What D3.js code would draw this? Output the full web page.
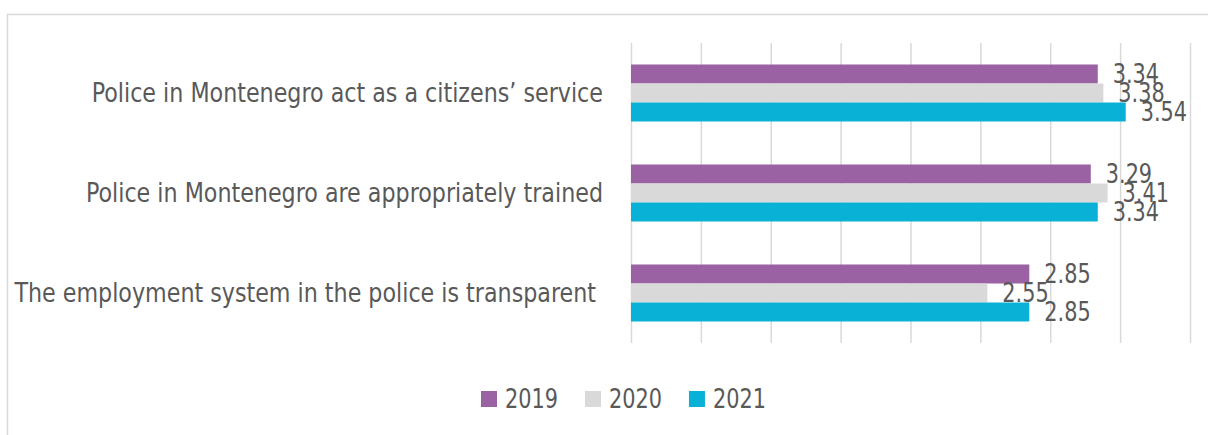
<!DOCTYPE html>
<meta charset="utf-8">
<style>
  body { margin: 0; background: #fff; }
  text { font-family: "Liberation Sans Narrow", "DejaVu Sans Condensed", sans-serif; fill: #595959; }
  .grid .domain { display: none; }
  .grid .tick line { stroke: #d9d9d9; stroke-width: 1.5; }
  .grid .tick text { display: none; }
</style>
<body>
<script src="https://d3js.org/d3.v7.min.js"></script>
<script>
  var categories = [
    "Police in Montenegro act as a citizens’ service",
    "Police in Montenegro are appropriately trained",
    "The employment system in the police is transparent "
  ];
  var years = ["2019", "2020", "2021"];
  var values2019 = [3.34, 3.29, 2.85];
  var values2020 = [3.38, 3.41, 2.55];
  var values2021 = [3.54, 3.34, 2.85];
  var xTicks = [0, 0.5, 1, 1.5, 2, 2.5, 3, 3.5, 4];
  var colors = ["#9b62a3", "#d9d9d9", "#08b1d5"];

  var series = [values2019, values2020, values2021];

  var W = 1208, H = 435;
  var margin = { top: 43, left: 631, right: 18, bottom: 92 },
    width = W - margin.left - margin.right,
    height = H - margin.top - margin.bottom;

  // the original font is narrower than what we have, squeeze it a bit
  var squeezeCat = 0.95, squeezeNum = 0.89;

  var svg = d3.select("body").append("svg")
    .attr("width", W)
    .attr("height", H);

  // chart frame
  svg.append("rect")
    .attr("x", 7.5).attr("y", 14.5)
    .attr("width", W + 10).attr("height", H + 10)
    .attr("fill", "none")
    .attr("stroke", "#d9d9d9")
    .attr("stroke-width", 1.5);

  var g = svg.append("g")
    .attr("transform", "translate(" + margin.left + "," + margin.top + ")");

  var x = d3.scaleLinear()
    .domain([0, 4])
    .range([0, width]);

  var y = d3.scaleBand()
    .domain(categories)
    .range([0, height])
    .paddingInner(0.43)
    .paddingOuter(0.215);

  var ySub = d3.scaleBand()
    .domain(years)
    .range([0, y.bandwidth()]);

  g.append("g")
    .attr("class", "grid")
    .attr("transform", "translate(0," + height + ")")
    .call(d3.axisBottom(x).tickValues(xTicks).tickSize(height).tickSizeOuter(0))
    .selectAll(".tick line")
    .attr("y1", 0).attr("y2", -height);

  // category labels
  g.selectAll(".cat")
    .data(categories)
    .enter()
    .append("text")
    .attr("class", "cat")
    .attr("transform", function (d) {
      return "translate(-28," + (y(d) + y.bandwidth() / 2) + ") scale(" + squeezeCat + ",1)";
    })
    .attr("dy", "0.35em")
    .attr("text-anchor", "end")
    .style("white-space", "pre")
    .style("font-size", "26px")
    .text(function (d) { return d; });

  var rows = g.selectAll(".row")
    .data(categories)
    .enter()
    .append("g")
    .attr("class", "row")
    .attr("transform", function (d) { return "translate(0," + y(d) + ")"; });

  years.forEach(function (yr, s) {
    rows.append("rect")
      .attr("x", x(0))
      .attr("y", ySub(yr))
      .attr("width", function (d, i) { return x(series[s][i]) - x(0); })
      .attr("height", ySub.bandwidth())
      .attr("fill", colors[s]);
  });

  years.forEach(function (yr, s) {
    rows.append("text")
      .attr("transform", function (d, i) {
        return "translate(" + (x(series[s][i]) + 15) + "," + (ySub(yr) + ySub.bandwidth() / 2) + ") scale(" + squeezeNum + ",1)";
      })
      .attr("dy", "0.36em")
      .style("font-size", "26px")
      .text(function (d, i) { return series[s][i].toFixed(2); });
  });

  // legend
  var legend = svg.append("g")
    .attr("transform", "translate(481,399)");
  var lx = 0;
  years.forEach(function (yr, s) {
    var item = legend.append("g").attr("transform", "translate(" + lx + ",0)");
    item.append("rect")
      .attr("x", 0).attr("y", -8)
      .attr("width", 16).attr("height", 16)
      .attr("fill", colors[s]);
    var t = item.append("text")
      .attr("transform", "translate(24,0) scale(" + squeezeNum + ",1)")
      .attr("dy", "0.36em")
      .style("font-size", "26px")
      .text(yr);
    lx += 24 + t.node().getComputedTextLength() * squeezeNum + 27;
  });
</script>
</body>
